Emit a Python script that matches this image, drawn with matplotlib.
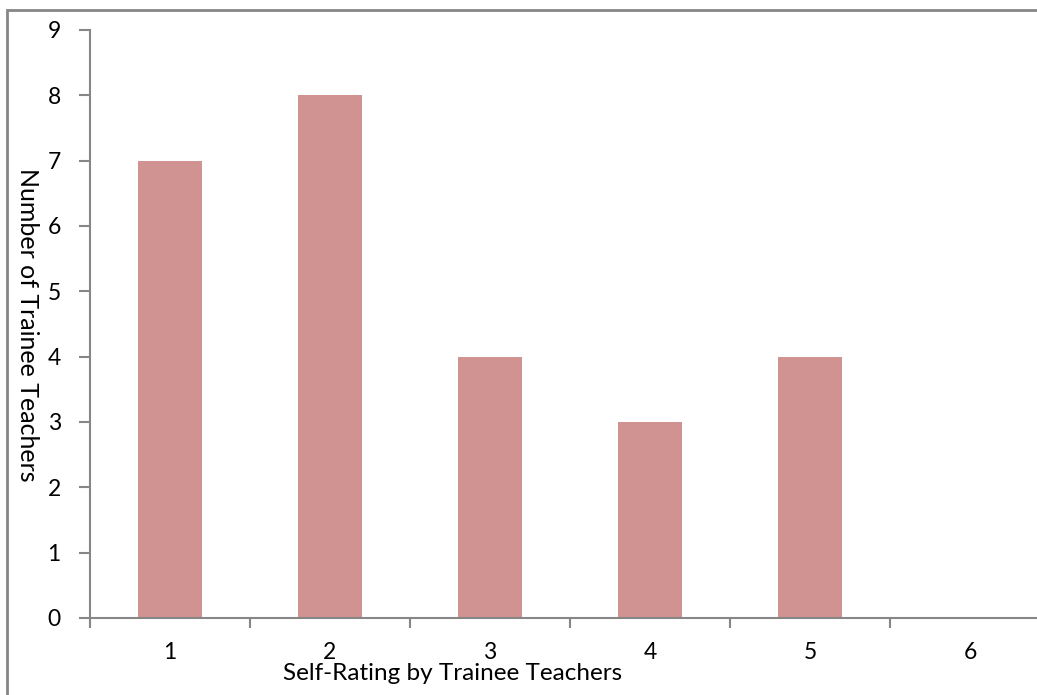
import matplotlib
matplotlib.use("Agg")
import matplotlib.pyplot as plt
from matplotlib.patches import Rectangle
import numpy as np

categories = ["1", "2", "3", "4", "5", "6"]
counts = [7, 8, 4, 3, 4, 0]
y_ticks = [0, 1, 2, 3, 4, 5, 6, 7, 8, 9]

plt.rcParams['font.family'] = ['Lato', 'DejaVu Sans']

W, H = 1037, 695
fig = plt.figure(figsize=(W / 100, H / 100), dpi=100)
fig.patch.set_facecolor('white')

left, right, bottom, top = 90, 1050, 618, 30
ax = fig.add_axes([left / W, (H - bottom) / H, (right - left) / W, (bottom - top) / H])

x = np.arange(1, len(categories) + 1)
ax.bar(x, counts, width=0.4, color='#D19292', edgecolor='none', zorder=2)

ax.set_xlim(0.5, len(categories) + 0.5)
ax.set_ylim(0, 9)
ax.set_yticks(y_ticks)
ax.set_yticklabels([str(v) for v in y_ticks], fontsize=16.5)

ax.set_xticks(np.arange(0.5, len(categories) + 0.6, 1.0))
ax.set_xticklabels([])
ax.set_xticks(x, minor=True)
ax.set_xticklabels(categories, minor=True, fontsize=16.5)
ax.tick_params(axis='x', which='major', direction='out', length=7, width=1.5, color='#868686')
ax.tick_params(axis='x', which='minor', length=0, pad=17)
ax.tick_params(axis='y', direction='out', length=8, width=1.5, color='#868686', pad=13)

for s in ['top', 'right']:
    ax.spines[s].set_visible(False)
for s in ['left', 'bottom']:
    ax.spines[s].set_color('#868686')
    ax.spines[s].set_linewidth(1.5)

fig.text(27 / W, 1 - 325 / H, 'Number of Trainee Teachers', rotation=270,
         ha='center', va='center', fontsize=18)
fig.text(453 / W, 1 - 663 / H, 'Self-Rating by Trainee Teachers',
         ha='center', va='top', fontsize=17.5)

border = Rectangle((7 / W, -0.1), 1.2, 1.1 - 10 / H, transform=fig.transFigure,
                   fill=False, edgecolor='#868686', linewidth=2.0, clip_on=False)
fig.add_artist(border)

fig.savefig('out.png', dpi=100)
